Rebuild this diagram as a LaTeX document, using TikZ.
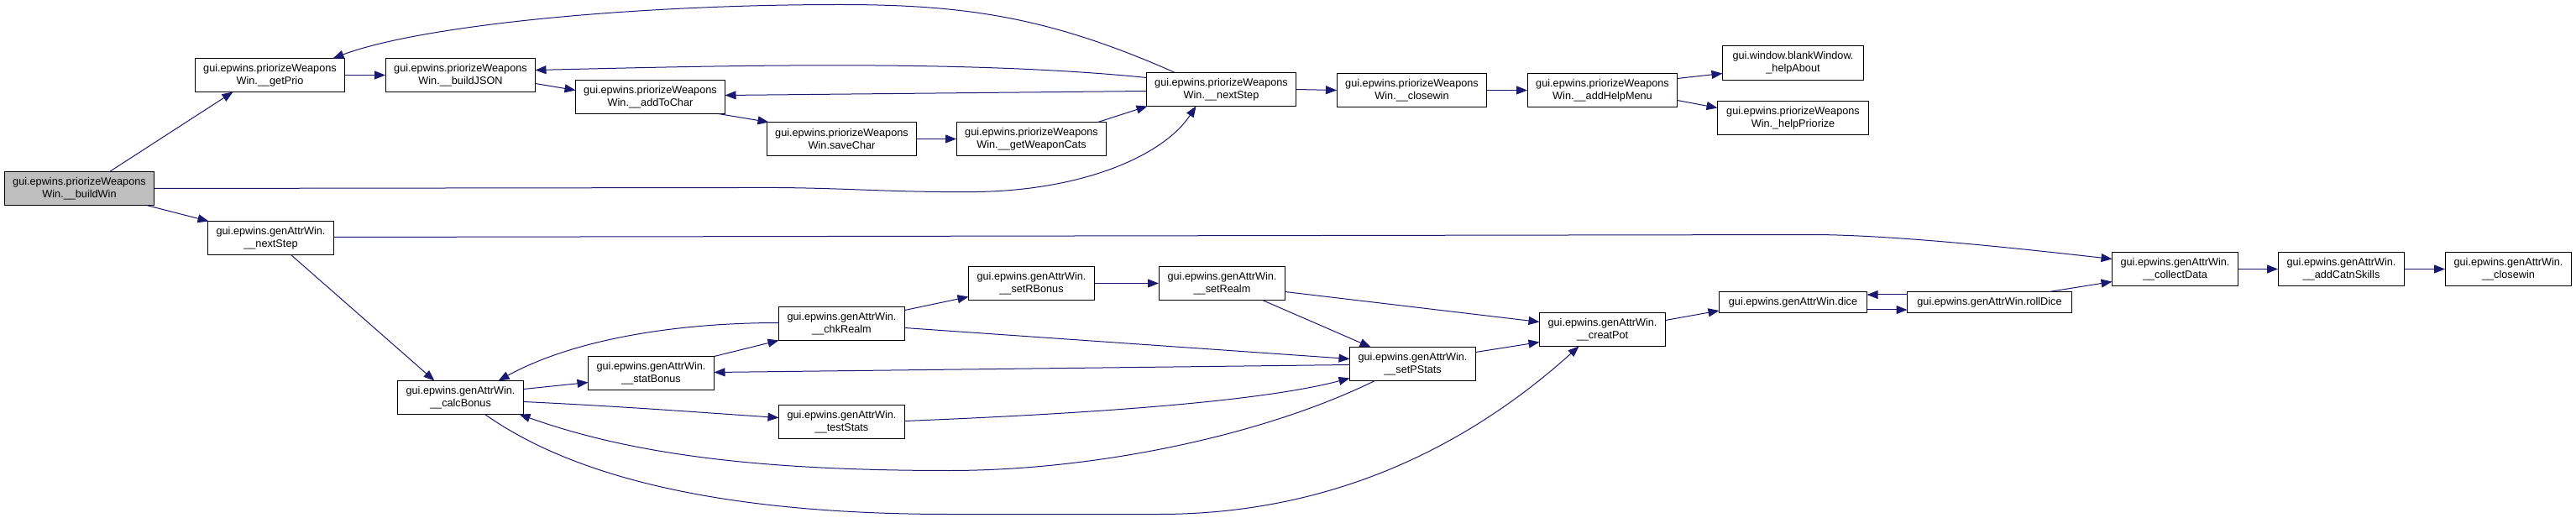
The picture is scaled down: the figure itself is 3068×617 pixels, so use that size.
\documentclass[tikz,border=0pt]{standalone}
\usepackage{fontspec}
\setmainfont{Liberation Sans}
\usetikzlibrary{arrows.meta,calc}
\definecolor{edgeblue}{HTML}{191970}
\definecolor{rootgray}{HTML}{BFBFBF}
\begin{document}
\begin{tikzpicture}[x=1pt,y=-1pt,
  fn/.style={draw=black,fill=white,line width=1pt,inner sep=0pt,align=center,
    minimum width=178pt,minimum height=40pt,font=\fontsize{12.7}{15}\selectfont},
  ga/.style={fn,minimum width=150pt},
  one/.style={fn,minimum height=25pt},
  call/.style={draw=edgeblue,line width=1pt,-{Triangle[length=13pt,width=10pt]},fill=none}
]
\useasboundingbox (0,0) rectangle (3068,617);
\begin{scope}[shift={(0.5,0.5)}]
% upper part
\node[fn,fill=rootgray] (buildWin) at (94,224) {gui.epwins.priorizeWeapons\\Win.\_\_buildWin};
\node[fn] (getPrio) at (321,89) {gui.epwins.priorizeWeapons\\Win.\_\_getPrio};
\node[fn] (buildJSON) at (548,89) {gui.epwins.priorizeWeapons\\Win.\_\_buildJSON};
\node[fn] (addToChar) at (774,115) {gui.epwins.priorizeWeapons\\Win.\_\_addToChar};
\node[fn] (saveChar) at (1002,165) {gui.epwins.priorizeWeapons\\Win.saveChar};
\node[fn] (getWeaponCats) at (1228,165) {gui.epwins.priorizeWeapons\\Win.\_\_getWeaponCats};
\node[fn] (nextStepP) at (1454,106) {gui.epwins.priorizeWeapons\\Win.\_\_nextStep};
\node[fn] (closewinP) at (1681,107) {gui.epwins.priorizeWeapons\\Win.\_\_closewin};
\node[fn] (addHelpMenu) at (1908,107) {gui.epwins.priorizeWeapons\\Win.\_\_addHelpMenu};
\node[fn,minimum width=168pt,minimum height=41pt] (helpAbout) at (2135,74.5) {gui.window.blankWindow.\\\_helpAbout};
\node[fn,minimum width=180pt] (helpPriorize) at (2135,140) {gui.epwins.priorizeWeapons\\Win.\_helpPriorize};
% lower part
\node[ga] (nextStepG) at (322,283) {gui.epwins.genAttrWin.\\\_\_nextStep};
\node[ga] (calcBonus) at (548,473) {gui.epwins.genAttrWin.\\\_\_calcBonus};
\node[ga] (statBonus) at (775,444) {gui.epwins.genAttrWin.\\\_\_statBonus};
\node[ga] (chkRealm) at (1002,385) {gui.epwins.genAttrWin.\\\_\_chkRealm};
\node[ga] (testStats) at (1002,502) {gui.epwins.genAttrWin.\\\_\_testStats};
\node[ga] (setRBonus) at (1228,337) {gui.epwins.genAttrWin.\\\_\_setRBonus};
\node[ga] (setRealm) at (1455,337) {gui.epwins.genAttrWin.\\\_\_setRealm};
\node[ga] (setPStats) at (1682,433) {gui.epwins.genAttrWin.\\\_\_setPStats};
\node[ga] (creatPot) at (1908,392) {gui.epwins.genAttrWin.\\\_\_creatPot};
\node[one,minimum width=176pt] (dice) at (2135,359.5) {gui.epwins.genAttrWin.dice};
\node[one,minimum width=196pt] (rollDice) at (2369,359.5) {gui.epwins.genAttrWin.rollDice};
\node[ga] (collectData) at (2590,320) {gui.epwins.genAttrWin.\\\_\_collectData};
\node[ga] (addCatnSkills) at (2788,320) {gui.epwins.genAttrWin.\\\_\_addCatnSkills};
\node[ga] (closewinG) at (2987,320) {gui.epwins.genAttrWin.\\\_\_closewin};

% edges upper
\draw[call] ($(buildWin)+(36,-20)$) -- ($(getPrio)+(-44,20)$);
\draw[call] (getPrio.east) -- (buildJSON.west);
\draw[call] ($(buildJSON)+(89,10)$) -- ($(addToChar)+(-89,-8)$);
\draw[call] ($(nextStepP)+(-55,-20)$) .. controls (1250,20) and (1150,5) .. (1000,5)
   .. controls (750,5) and (500,30) .. ($(getPrio)+(75,-20)$);
\draw[call] ($(nextStepP)+(-89,-14)$) .. controls (1150,70) and (850,78) .. ($(buildJSON)+(89,-6)$);
\draw[call] ($(nextStepP)+(-89,2)$) -- ($(addToChar)+(89,-2)$);
\draw[call] ($(addToChar)+(81,20)$) -- ($(saveChar)+(-87,-20)$);
\draw[call] (saveChar.east) -- (getWeaponCats.west);
\draw[call] ($(getWeaponCats)+(79,-20)$) -- ($(nextStepP)+(-88,20)$);
\draw[call] (buildWin.east) -- (880,223) .. controls (1000,222) and (1050,229) .. (1163,228)
   .. controls (1290,226) and (1385,185) .. ($(nextStepP)+(-30,20)$);
\draw[call] ($(buildWin)+(80,20)$) -- ($(nextStepG)+(-74,-20)$);
\draw[call] (nextStepP.east) -- (closewinP.west);
\draw[call] (closewinP.east) -- (addHelpMenu.west);
\draw[call] ($(addHelpMenu)+(89,-14)$) -- ($(helpAbout)+(-84,12.5)$);
\draw[call] ($(addHelpMenu)+(89,12)$) -- ($(helpPriorize)+(-90,-12)$);

% edges lower
\draw[call] ($(nextStepG)+(75,-1)$) -- (2163,279) .. controls (2260,280) and (2400,295) .. ($(collectData)+(-75,-12)$);
\draw[call] ($(nextStepG)+(24,20)$) -- ($(calcBonus)+(-31,-20)$);
\draw[call] ($(calcBonus)+(75,-10)$) -- ($(statBonus)+(-75,11)$);
\draw[call] ($(chkRealm)+(-75,-1)$) .. controls (800,384) and (680,405) .. ($(calcBonus)+(45,-20)$);
\draw[call] ($(statBonus)+(75,-20)$) -- ($(chkRealm)+(-75,20)$);
\draw[call] ($(setPStats)+(-75,1)$) -- ($(statBonus)+(75,-1)$);
\draw[call] ($(calcBonus)+(75,5)$) .. controls (750,484) and (850,492) .. ($(testStats)+(-75,-5)$);
\draw[call] ($(testStats)+(75,-1)$) .. controls (1300,492) and (1500,478) .. ($(setPStats)+(-75,17)$);
\draw[call] ($(setPStats)+(-45,20)$) .. controls (1500,520) and (1300,560) .. (1130,560)
   .. controls (900,560) and (750,540) .. ($(calcBonus)+(70,20)$);
\draw[call] ($(calcBonus)+(29,20)$) .. controls (700,580) and (900,612) .. (1130,612)
   -- (1380,612) .. controls (1600,612) and (1760,520) .. ($(creatPot)+(-28,20)$);
\draw[call] ($(chkRealm)+(75,-16)$) -- ($(setRBonus)+(-75,16)$);
\draw[call] (setRBonus.east) -- (setRealm.west);
\draw[call] ($(chkRealm)+(75,5)$) -- ($(setPStats)+(-75,-6)$);
\draw[call] ($(setRealm)+(48,20)$) -- ($(setPStats)+(-50,-20)$);
\draw[call] ($(setRealm)+(75,10)$) -- ($(creatPot)+(-75,-9)$);
\draw[call] ($(setPStats)+(75,-14)$) -- ($(creatPot)+(-75,15)$);
\draw[call] ($(creatPot)+(75,-11)$) -- ($(dice)+(-88,10)$);
\draw[call] ($(dice)+(88,9)$) -- ($(rollDice)+(-98,9)$);
\draw[call] ($(rollDice)+(-98,-9)$) -- ($(dice)+(88,-9)$);
\draw[call] ($(rollDice)+(71,-12.5)$) -- ($(collectData)+(-75,15)$);
\draw[call] (collectData.east) -- (addCatnSkills.west);
\draw[call] (addCatnSkills.east) -- (closewinG.west);
\end{scope}
\end{tikzpicture}
\end{document}
